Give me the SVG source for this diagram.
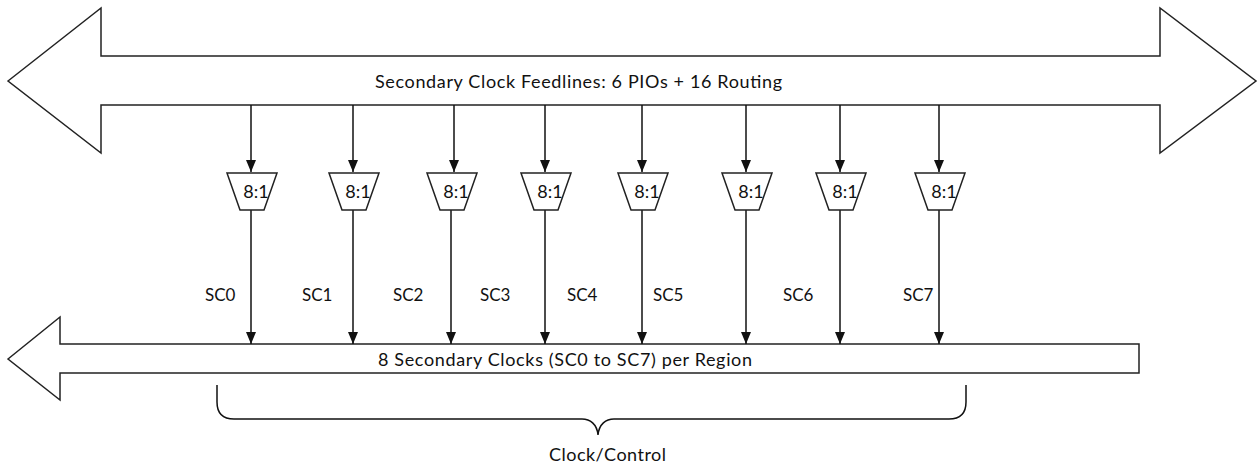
<svg xmlns="http://www.w3.org/2000/svg" width="1259" height="466" viewBox="0 0 1259 466">
<style>
.shape{fill:#fff;stroke:#222;stroke-width:1.5;stroke-linejoin:miter}
.wire{fill:none;stroke:#111;stroke-width:1.5}
.t{font-family:Lato,"Liberation Sans",sans-serif;fill:#111}
.lbl{font-size:17px}
.big{font-size:18px}
.mux{font-size:18px;text-anchor:middle}
</style>
<defs>
<marker id="ah" viewBox="0 0 12 10" refX="12" refY="5" markerWidth="12" markerHeight="10" markerUnits="userSpaceOnUse" orient="auto">
<path d="M0,0 L12,5 L0,10 Z" fill="#111"/>
</marker>
</defs>
<g id="feedlines">
<polygon class="shape" points="8,81 101,8 101,56 1160,56 1160,8 1256,81 1160,153 1160,105 101,105 101,153"/>
<text class="t big" x="375" y="88" textLength="407" lengthAdjust="spacing">Secondary Clock Feedlines: 6 PIOs + 16 Routing</text>
</g>
<g id="region-bus">
<polygon class="shape" points="8,359 60,317 60,344 1139,344 1139,373 60,373 60,400"/>
<text class="t big" x="378" y="366" textLength="374" lengthAdjust="spacing">8 Secondary Clocks (SC0 to SC7) per Region</text>
</g>
<g id="connectors">
<line class="wire" x1="251" y1="105" x2="251" y2="172" marker-end="url(#ah)"/>
<line class="wire" x1="353" y1="105" x2="353" y2="172" marker-end="url(#ah)"/>
<line class="wire" x1="454" y1="105" x2="454" y2="172" marker-end="url(#ah)"/>
<line class="wire" x1="545" y1="105" x2="545" y2="172" marker-end="url(#ah)"/>
<line class="wire" x1="642" y1="105" x2="642" y2="172" marker-end="url(#ah)"/>
<line class="wire" x1="746" y1="105" x2="746" y2="172" marker-end="url(#ah)"/>
<line class="wire" x1="840" y1="105" x2="840" y2="172" marker-end="url(#ah)"/>
<line class="wire" x1="939" y1="105" x2="939" y2="172" marker-end="url(#ah)"/>
<line class="wire" x1="251" y1="210" x2="251" y2="344" marker-end="url(#ah)"/>
<line class="wire" x1="353" y1="210" x2="353" y2="344" marker-end="url(#ah)"/>
<line class="wire" x1="451" y1="210" x2="451" y2="344" marker-end="url(#ah)"/>
<line class="wire" x1="545" y1="210" x2="545" y2="344" marker-end="url(#ah)"/>
<line class="wire" x1="642" y1="210" x2="642" y2="344" marker-end="url(#ah)"/>
<line class="wire" x1="746" y1="210" x2="746" y2="344" marker-end="url(#ah)"/>
<line class="wire" x1="840" y1="210" x2="840" y2="344" marker-end="url(#ah)"/>
<line class="wire" x1="939" y1="210" x2="939" y2="344" marker-end="url(#ah)"/>
</g>
<g id="labels">
<text class="t lbl" x="205" y="301">SC0</text>
<text class="t lbl" x="302" y="301">SC1</text>
<text class="t lbl" x="393" y="301">SC2</text>
<text class="t lbl" x="480" y="301">SC3</text>
<text class="t lbl" x="567" y="301">SC4</text>
<text class="t lbl" x="653" y="301">SC5</text>
<text class="t lbl" x="783" y="301">SC6</text>
<text class="t lbl" x="903" y="301">SC7</text>
</g>
<g id="mux0"><polygon class="shape" points="227,173 277,173 264,210 240,210"/><text class="t mux" x="256" y="198">8:1</text></g>
<g id="mux1"><polygon class="shape" points="329,173 379,173 366,210 342,210"/><text class="t mux" x="358" y="198">8:1</text></g>
<g id="mux2"><polygon class="shape" points="427,173 477,173 464,210 440,210"/><text class="t mux" x="456" y="198">8:1</text></g>
<g id="mux3"><polygon class="shape" points="521,173 571,173 558,210 534,210"/><text class="t mux" x="550" y="198">8:1</text></g>
<g id="mux4"><polygon class="shape" points="618,173 668,173 655,210 631,210"/><text class="t mux" x="647" y="198">8:1</text></g>
<g id="mux5"><polygon class="shape" points="722,173 772,173 759,210 735,210"/><text class="t mux" x="751" y="198">8:1</text></g>
<g id="mux6"><polygon class="shape" points="816,173 866,173 853,210 829,210"/><text class="t mux" x="845" y="198">8:1</text></g>
<g id="mux7"><polygon class="shape" points="915,173 965,173 952,210 928,210"/><text class="t mux" x="944" y="198">8:1</text></g>
<g id="clock-control">
<path class="wire" d="M217,385 L217,402 Q217,419 234,419 L582,419 C590,419 597,424 598,435 C599,424 606,419 614,419 L949,419 Q966,419 966,402 L966,385"/>
<text class="t big" x="549" y="461" textLength="117" lengthAdjust="spacing">Clock/Control</text>
</g>
</svg>
